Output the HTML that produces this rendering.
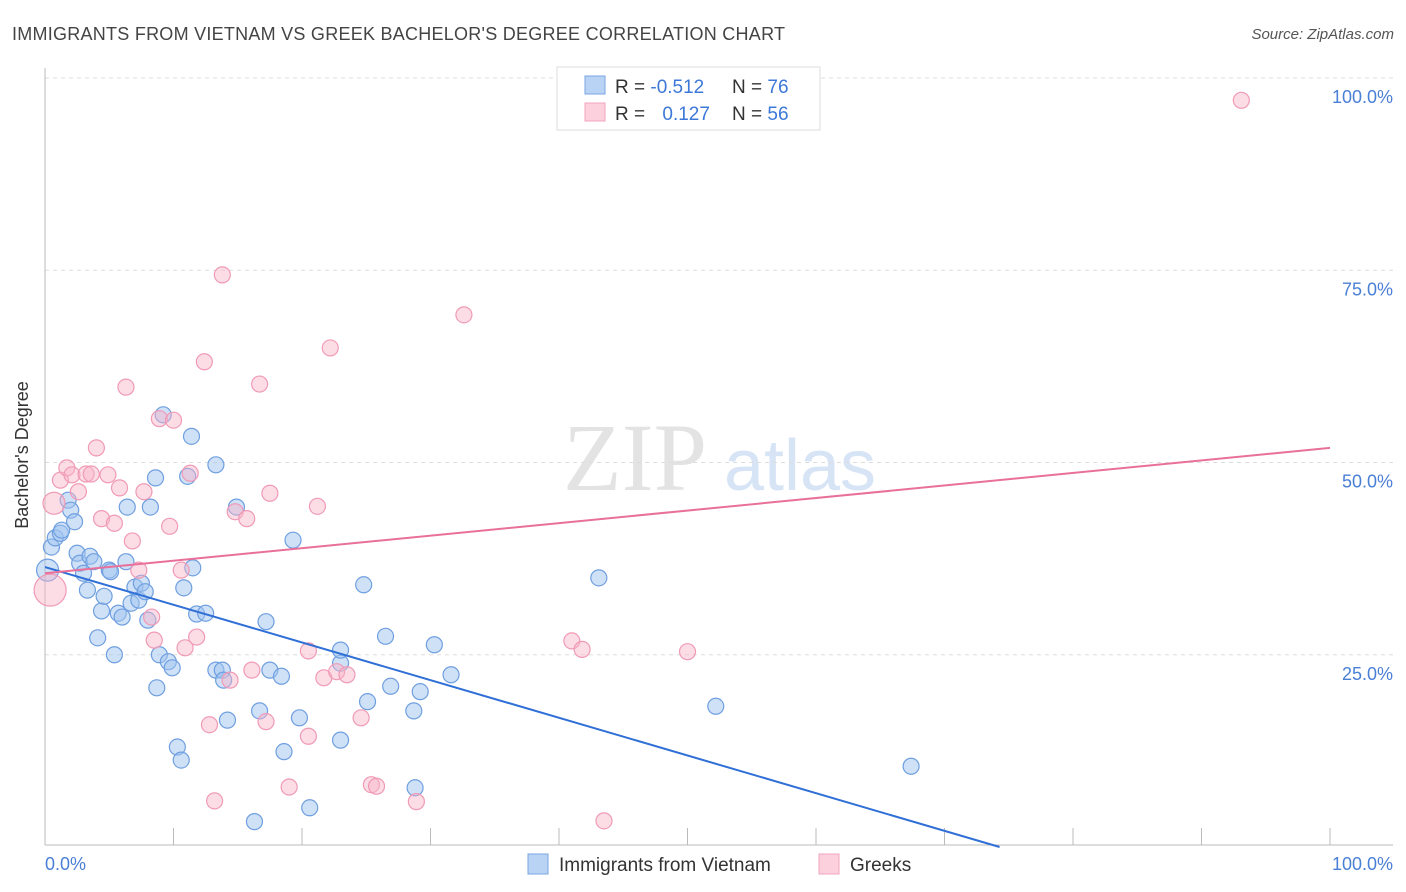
<!DOCTYPE html>
<html><head><meta charset="utf-8"><style>
body{margin:0;background:#fff;font-family:"Liberation Sans",sans-serif}
#wrap{position:relative;width:1406px;height:892px;overflow:hidden}
</style></head><body>
<div id="wrap">
<svg id="svg" width="1406" height="892" xmlns="http://www.w3.org/2000/svg">
<text x="12" y="40" font-size="18" fill="#444" textLength="773">IMMIGRANTS FROM VIETNAM VS GREEK BACHELOR'S DEGREE CORRELATION CHART</text>
<text x="1394" y="39" font-size="15" fill="#555" font-style="italic" text-anchor="end">Source: ZipAtlas.com</text>
<g>
<text x="635" y="490" font-size="96" fill="#e3e3e3" font-family="Liberation Serif" text-anchor="middle">ZIP</text>
<text x="800" y="490" font-size="72" fill="#d6e4f5" text-anchor="middle">atlas</text>
</g>
<g id="grid"></g>
<g id="axes"></g>
<g id="pts"></g>
<g id="lines"></g>
<text x="28" y="455" font-size="18" fill="#333" text-anchor="middle" transform="rotate(-90 28 455)">Bachelor's Degree</text>
<text x="45" y="870" font-size="18" fill="#4a7fd6">0.0%</text>
<text x="1393" y="870" font-size="18" fill="#4a7fd6" text-anchor="end">100.0%</text>
<g>
<rect x="557" y="67" width="263" height="63" fill="#fff" stroke="#ddd"/>
<rect x="585" y="76" width="20" height="18" fill="#b9d3f5" stroke="#7aa6e2"/>
<rect x="585" y="103" width="20" height="18" fill="#fcd0dd" stroke="#f2a5bd"/>
<text x="615" y="93" font-size="19" fill="#333">R = <tspan fill="#3d78d8">-0.512</tspan></text>
<text x="732" y="93" font-size="19" fill="#333">N = <tspan fill="#3d78d8">76</tspan></text>
<text x="615" y="120" font-size="19" fill="#333">R = <tspan fill="#3d78d8" dx="12">0.127</tspan></text>
<text x="732" y="120" font-size="19" fill="#333">N = <tspan fill="#3d78d8">56</tspan></text>
</g>
<g>
<rect x="528" y="854" width="20" height="20" fill="#b9d3f5" stroke="#7aa6e2"/>
<text x="559" y="871" font-size="19" fill="#333">Immigrants from Vietnam</text>
<rect x="819" y="854" width="20" height="20" fill="#fcd0dd" stroke="#f2a5bd"/>
<text x="850" y="871" font-size="19" fill="#333">Greeks</text>
</g>
</svg>
</div>
<script>
const yTicks=[25,50,75,100];
const yTickLabels=["25.0%","50.0%","75.0%","100.0%"];
const xTicks=[0,10,20,30,40,50,60,70,80,90,100];
const blueX=[0.2,0.5,0.8,1.2,1.3,1.8,2.0,2.3,2.5,2.7,3.0,3.3,3.5,3.8,4.1,4.4,4.6,5.0,5.1,5.4,5.7,6.0,6.3,6.4,6.7,7.0,7.3,7.5,7.8,8.0,8.2,8.6,8.7,8.9,9.2,9.6,9.9,10.3,10.6,10.8,11.1,11.4,11.5,11.8,12.5,13.3,13.3,13.8,13.9,14.2,14.9,16.3,16.7,17.2,17.5,18.4,18.6,19.3,19.8,20.6,23.0,23.0,23.0,24.8,25.1,26.5,26.9,28.7,28.8,29.2,30.3,31.6,43.1,52.2,67.4];
const blueY=[36.0,39.0,40.2,40.8,41.2,45.1,43.8,42.3,38.2,36.9,35.6,33.4,37.8,37.1,27.2,30.7,32.6,36.0,35.8,25.0,30.4,29.9,37.1,44.2,31.7,33.8,32.1,34.3,33.2,29.5,44.2,48.0,20.7,25.0,56.2,24.1,23.3,13.0,11.3,33.7,48.2,53.4,36.3,30.3,30.4,49.7,23.0,23.0,21.7,16.5,44.2,3.3,17.7,29.3,23.0,22.2,12.4,39.9,16.8,5.1,23.9,25.6,13.9,34.1,18.9,27.4,20.9,17.7,7.7,20.2,26.3,22.4,35.0,18.3,10.5];
const pinkX=[0.4,0.7,1.2,1.7,2.1,2.6,3.2,3.6,4.0,4.4,4.9,5.4,5.8,6.3,6.8,7.3,7.7,8.3,8.5,8.9,9.7,10.0,10.6,10.9,11.3,11.8,12.4,12.8,13.2,13.8,14.4,14.8,15.7,16.1,16.7,17.2,17.5,19.0,20.5,20.5,21.2,21.7,22.2,22.7,23.5,24.6,25.4,25.8,28.9,32.6,41.0,41.8,43.5,50.0,56.4,93.1];
const pinkY=[33.4,44.7,47.7,49.3,48.4,46.2,48.5,48.5,51.9,42.7,48.4,42.1,46.7,59.8,39.8,36.0,46.2,29.9,26.9,55.7,41.7,55.5,36.0,25.9,48.6,27.3,63.1,15.9,6.0,74.4,21.7,43.6,42.7,23.0,60.2,16.3,46.0,7.8,25.5,14.4,44.3,22.0,64.9,22.8,22.4,16.8,8.1,7.9,5.9,69.2,26.8,25.7,3.4,25.4,99.7,97.1];
const blueTrend=[36.4,-12.6];
const pinkTrend=[35.6,51.9];
const NS="http://www.w3.org/2000/svg";
const X=v=>45+v*12.85, Y=v=>847-v*7.69;
function mk(tag,attrs,parent){const e=document.createElementNS(NS,tag);for(const k in attrs)e.setAttribute(k,attrs[k]);document.getElementById(parent).appendChild(e);return e;}
yTicks.forEach((t,i)=>{
 const l=mk('line',{x1:45,x2:1393,y1:Y(t),y2:Y(t),stroke:'#ddd','stroke-dasharray':'4,4'},'grid');
 
 
 const tx=mk('text',{x:1393,y:Y(t)+25,'font-size':18,fill:'#4a7fd6','text-anchor':'end'},'grid');
 tx.textContent=yTickLabels[i];
 
 
});
const ax=mk('line',{x1:45,x2:45,y1:68,y2:845,stroke:'#bbb'},'axes');


const bx=mk('line',{x1:45,x2:1393,y1:845,y2:845,stroke:'#bbb'},'axes');


xTicks.forEach(t=>{
 const l=mk('line',{x1:X(t),x2:X(t),y1:828,y2:845,stroke:'#bbb'},'axes');
 
 
});
blueX.forEach((v,i)=>{
 const c=mk('circle',{cx:X(v),cy:Y(blueY[i]),r:i==0?11:8,fill:'rgba(160,196,240,0.5)',stroke:'#6f9fe0','stroke-width':1.2},'pts');
 
 
});
pinkX.forEach((v,i)=>{
 const c=mk('circle',{cx:X(v),cy:Y(pinkY[i]),r:i==0?16:(i==1?11:8),fill:'rgba(248,180,200,0.45)',stroke:'#f09ab6','stroke-width':1.2},'pts');
 
 
});
const bxEnd=blueTrend[0]*100/(blueTrend[0]-blueTrend[1]);
const bl=mk('line',{x1:X(0),y1:Y(blueTrend[0]),x2:X(bxEnd),y2:Y(0),stroke:'#2f6fd6','stroke-width':2},'lines');


const pl=mk('line',{x1:X(0),y1:Y(pinkTrend[0]),x2:X(100),y2:Y(pinkTrend[1]),stroke:'#e8709a','stroke-width':2},'lines');


</script>
</body></html>
